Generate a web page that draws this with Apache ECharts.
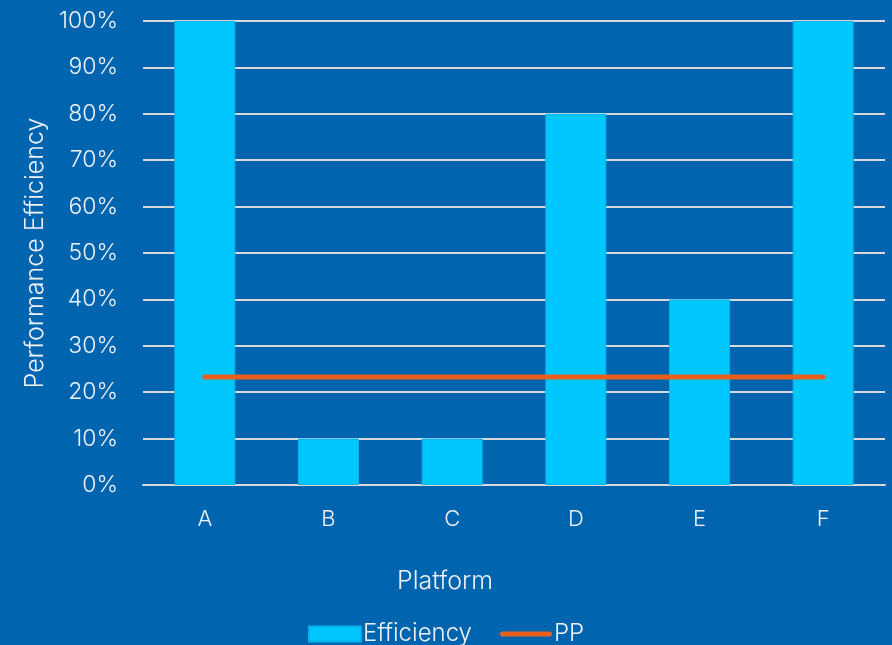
<!DOCTYPE html>
<html><head><meta charset="utf-8">
<script src="https://cdn.jsdelivr.net/npm/echarts@6/dist/echarts.min.js"></script>
<style>html,body{margin:0;padding:0;background:#0064AF;}#c{width:892px;height:645px;}</style>
</head><body><div id="c"></div>
<script>
const categories = ['A','B','C','D','E','F'];
const efficiency = [100, 10, 10, 80, 40, 100];
const pp = [23.3, 23.3, 23.3, 23.3, 23.3, 23.3];
const yTicks = [0, 10, 20, 30, 40, 50, 60, 70, 80, 90, 100];

const txt = '#EEF2F7';
const font = 'Inter';
const chart = echarts.init(document.getElementById('c'));
chart.setOption({
  backgroundColor: '#0064AF',
  textStyle: {fontFamily: font},
  grid: {left: 143, right: 7, top: 21, bottom: 160},
  legend: {
    top: 622, left: 'center', itemGap: 28, itemWidth: 52, itemHeight: 15, padding: 0,
    textStyle: {color: txt, fontSize: 24, fontFamily: font, fontWeight: 300, padding: [0,0,0,-3]},
    data: [
      {name: 'Efficiency', icon: 'rect'},
      {name: 'PP', icon: 'path://M2.5,0 L49.5,0 A2.5,2.5 0 0 1 49.5,5 L2.5,5 A2.5,2.5 0 0 1 2.5,0Z'}
    ]
  },
  xAxis: {
    type: 'category', data: categories,
    name: 'Platform', nameLocation: 'middle', nameGap: 84,
    nameTextStyle: {color: txt, fontSize: 25, fontWeight: 300, padding: [0, 138, 0, 0]},
    axisLine: {show: true, lineStyle: {color: '#D9D9D9', width: 2}},
    axisTick: {show: false},
    axisLabel: {color: txt, fontSize: 22, fontWeight: 300, margin: 23}
  },
  yAxis: {
    type: 'value', min: yTicks[0], max: yTicks[yTicks.length-1], interval: 10,
    name: 'Performance Efficiency', nameLocation: 'middle', nameGap: 94, nameRotate: 90,
    nameTextStyle: {color: txt, fontSize: 25, fontWeight: 300},
    axisLine: {show: false}, axisTick: {show: false},
    axisLabel: {color: txt, fontSize: 23, fontWeight: 300, margin: 25, formatter: v => v + '%'},
    splitLine: {lineStyle: {color: '#D9D9D9', width: 2}}
  },
  series: [
    {name: 'Efficiency', type: 'bar', data: efficiency, barWidth: 61,
     itemStyle: {color: '#00C8FF', borderColor: '#0AAFEB', borderWidth: 1}},
    {name: 'PP', type: 'line', data: pp, symbol: 'none', z: 5,
     lineStyle: {color: '#E8601C', width: 5, cap: 'round'}, itemStyle: {color: '#E8601C'}}
  ]
});
</script></body></html>
